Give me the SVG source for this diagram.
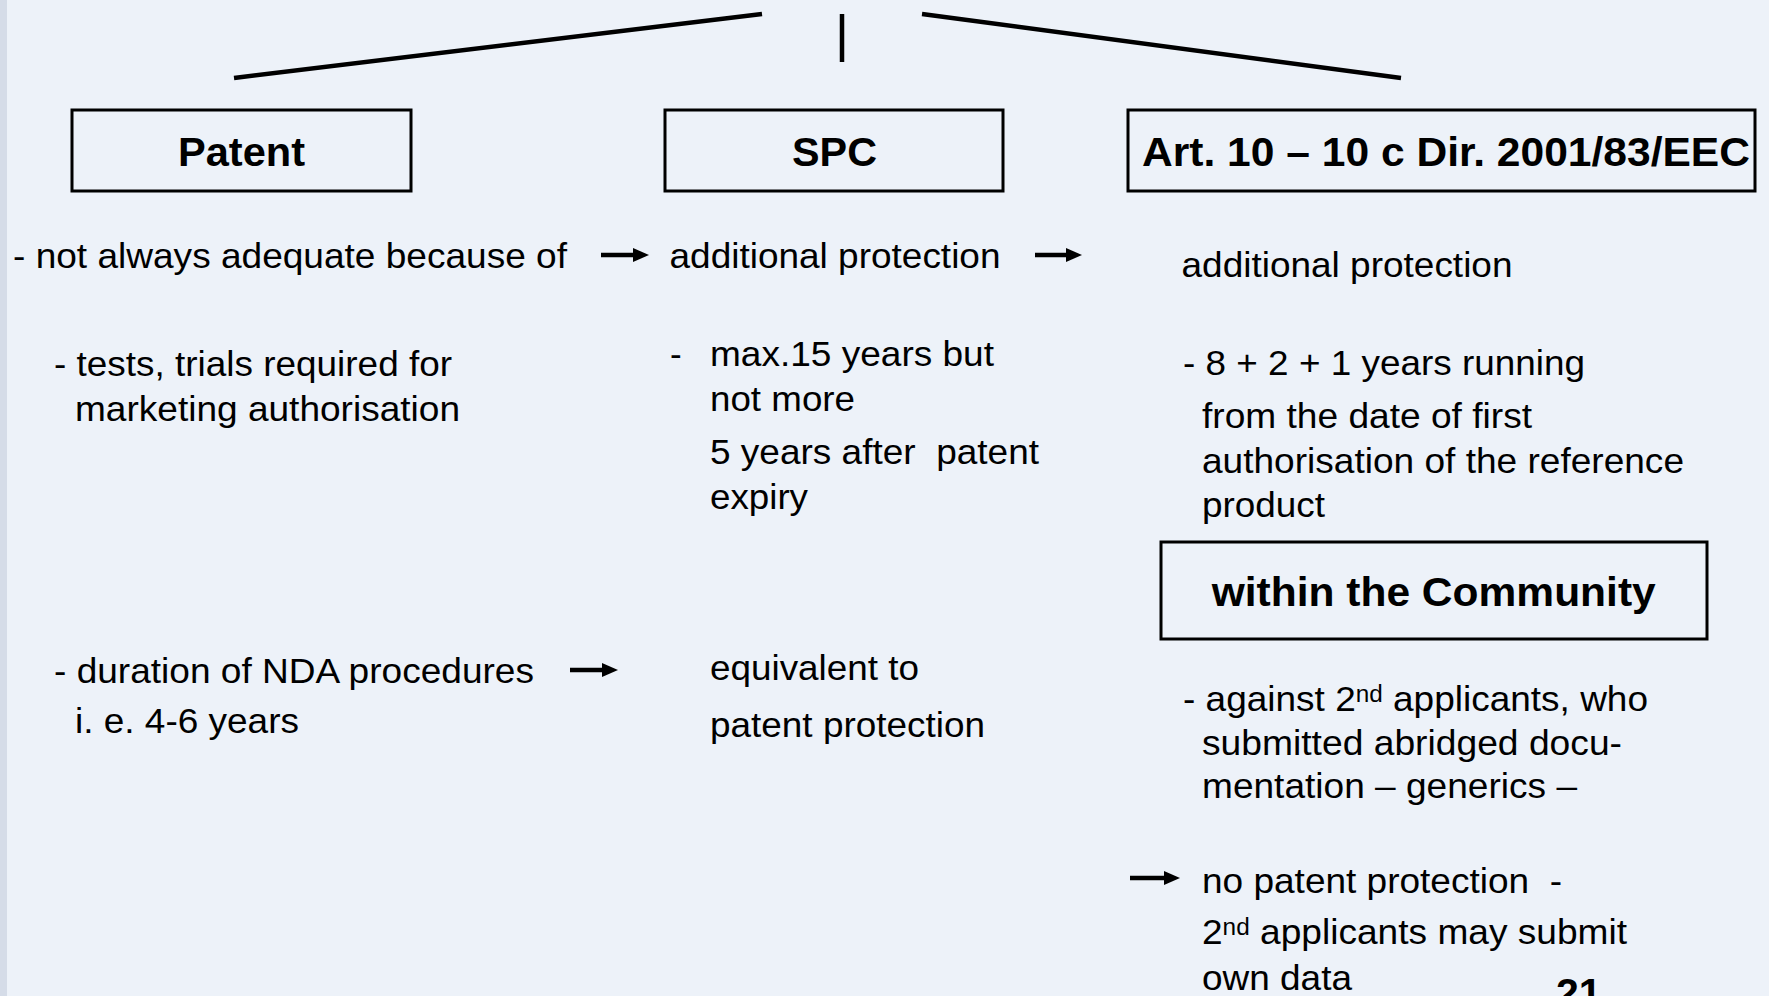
<svg xmlns="http://www.w3.org/2000/svg" width="1769" height="996" viewBox="0 0 1769 996">
  <style>
    .bg { fill: #edf2f9; }
    .strip { fill: #d5dce8; }
    .box { fill: none; stroke: #000; stroke-width: 3; }
    .title { font-family: "Liberation Sans", Arial, sans-serif; font-weight: bold; font-size: 41px; fill: #000; }
    .t { font-family: "Liberation Sans", Arial, sans-serif; font-size: 35px; fill: #000; }
    .sup { font-size: 23px; }
    .tree { stroke: #000; stroke-width: 4.5; fill: none; }
    .arr { stroke: #000; stroke-width: 4.5; fill: none; marker-end: url(#head); }
  </style>
  <defs>
    <marker id="head" markerUnits="userSpaceOnUse" markerWidth="17" markerHeight="15" viewBox="0 0 17 15" refX="3" refY="7.5" orient="auto">
      <path d="M0,0.5 L16,7.5 L0,14.5 Z" fill="#000"/>
    </marker>
  </defs>

  <rect class="bg" x="0" y="0" width="1769" height="996"/>
  <rect class="strip" x="0" y="0" width="7" height="996"/>

  <g id="connectors">
    <line class="tree" x1="234" y1="78" x2="762" y2="14"/>
    <line class="tree" x1="842" y1="14" x2="842" y2="62"/>
    <line class="tree" x1="922" y1="14" x2="1401" y2="78"/>
    <line class="arr" x1="601" y1="255" x2="636" y2="255"/>
    <line class="arr" x1="1035" y1="255" x2="1069" y2="255"/>
    <line class="arr" x1="570" y1="670" x2="605" y2="670"/>
    <line class="arr" x1="1130" y1="878" x2="1167" y2="878"/>
  </g>

  <g id="node-patent">
    <rect class="box" x="72" y="110" width="339" height="81"/>
    <text class="title" x="241.5" y="166" text-anchor="middle" textLength="127" lengthAdjust="spacingAndGlyphs">Patent</text>
  </g>
  <g id="node-spc">
    <rect class="box" x="665" y="110" width="338" height="81"/>
    <text class="title" x="834.5" y="166" text-anchor="middle" textLength="85" lengthAdjust="spacingAndGlyphs">SPC</text>
  </g>
  <g id="node-art">
    <rect class="box" x="1128" y="110" width="627" height="81"/>
    <text class="title" x="1142" y="166" textLength="608" lengthAdjust="spacingAndGlyphs">Art. 10 – 10 c Dir. 2001/83/EEC</text>
  </g>
  <g id="node-community">
    <rect class="box" x="1161" y="542" width="546" height="97"/>
    <text class="title" x="1433.7" y="606" text-anchor="middle" textLength="444" lengthAdjust="spacingAndGlyphs">within the Community</text>
  </g>

  <g id="patent-text">
    <text class="t" x="13" y="268" textLength="554" lengthAdjust="spacingAndGlyphs">- not always adequate because of</text>
    <text class="t" x="54" y="376" textLength="398" lengthAdjust="spacingAndGlyphs">- tests, trials required for</text>
    <text class="t" x="75" y="421" textLength="385" lengthAdjust="spacingAndGlyphs">marketing authorisation</text>
    <text class="t" x="54" y="683" textLength="480" lengthAdjust="spacingAndGlyphs">- duration of NDA procedures</text>
    <text class="t" x="75" y="733" textLength="224" lengthAdjust="spacingAndGlyphs">i. e. 4-6 years</text>
  </g>

  <g id="spc-text">
    <text class="t" x="669.5" y="268" textLength="331" lengthAdjust="spacingAndGlyphs">additional protection</text>
    <text class="t" x="670" y="366">-</text>
    <text class="t" x="710" y="366" textLength="284" lengthAdjust="spacingAndGlyphs">max.15 years but</text>
    <text class="t" x="710" y="411" textLength="145" lengthAdjust="spacingAndGlyphs">not more</text>
    <text class="t" x="710" y="464" textLength="329" lengthAdjust="spacingAndGlyphs" xml:space="preserve">5 years after  patent</text>
    <text class="t" x="710" y="509" textLength="98" lengthAdjust="spacingAndGlyphs">expiry</text>
    <text class="t" x="710" y="680" textLength="209" lengthAdjust="spacingAndGlyphs">equivalent to</text>
    <text class="t" x="710" y="737" textLength="275" lengthAdjust="spacingAndGlyphs">patent protection</text>
  </g>

  <g id="art-text">
    <text class="t" x="1181.5" y="277" textLength="331" lengthAdjust="spacingAndGlyphs">additional protection</text>
    <text class="t" x="1183" y="375" textLength="402" lengthAdjust="spacingAndGlyphs">- 8 + 2 + 1 years running</text>
    <text class="t" x="1202" y="428" textLength="330" lengthAdjust="spacingAndGlyphs">from the date of first</text>
    <text class="t" x="1202" y="473" textLength="482" lengthAdjust="spacingAndGlyphs">authorisation of the reference</text>
    <text class="t" x="1202" y="517" textLength="123" lengthAdjust="spacingAndGlyphs">product</text>
    <text class="t" x="1183" y="711" textLength="465" lengthAdjust="spacingAndGlyphs">- against 2<tspan class="sup" dy="-9">nd</tspan><tspan dy="9"> applicants, who</tspan></text>
    <text class="t" x="1202" y="755" textLength="420" lengthAdjust="spacingAndGlyphs">submitted abridged docu-</text>
    <text class="t" x="1202" y="798" textLength="375" lengthAdjust="spacingAndGlyphs">mentation – generics –</text>
    <text class="t" x="1202" y="893" textLength="360" lengthAdjust="spacingAndGlyphs" xml:space="preserve">no patent protection  -</text>
    <text class="t" x="1202" y="944" textLength="425" lengthAdjust="spacingAndGlyphs">2<tspan class="sup" dy="-9">nd</tspan><tspan dy="9"> applicants may submit</tspan></text>
    <text class="t" x="1202" y="990" textLength="150" lengthAdjust="spacingAndGlyphs">own data</text>
  </g>

  <g id="page-number">
    <text class="title" x="1556" y="1007" font-size="38">21</text>
  </g>
</svg>
